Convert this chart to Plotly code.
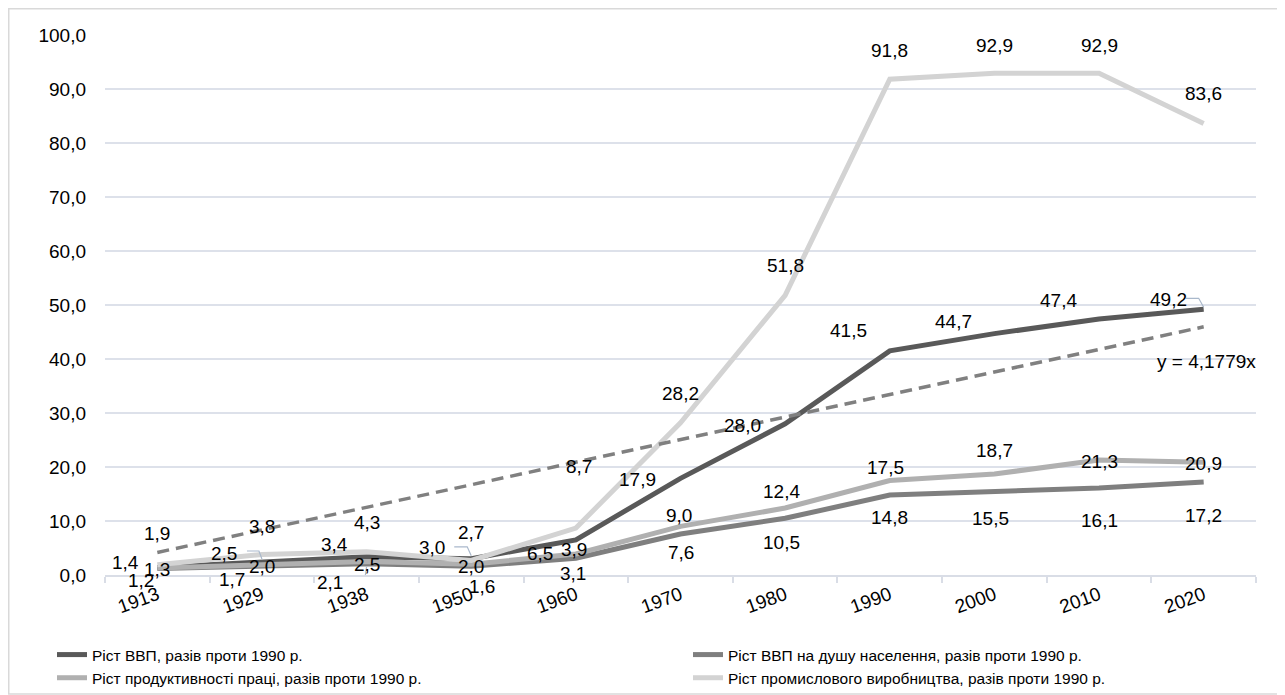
import plotly.graph_objects as go

years = ["1913", "1929", "1938", "1950", "1960", "1970", "1980", "1990", "2000", "2010", "2020"]
gdp = [1.4, 2.5, 3.4, 3.0, 6.5, 17.9, 28.0, 41.5, 44.7, 47.4, 49.2]
gdp_pc = [1.2, 1.7, 2.1, 1.6, 3.1, 7.6, 10.5, 14.8, 15.5, 16.1, 17.2]
labor = [1.3, 2.0, 2.5, 2.0, 3.9, 9.0, 12.4, 17.5, 18.7, 21.3, 20.9]
industry = [1.9, 3.8, 4.3, 2.7, 8.7, 28.2, 51.8, 91.8, 92.9, 92.9, 83.6]

names = [
    "Ріст ВВП, разів проти 1990 р.",
    "Ріст ВВП на душу населення, разів проти 1990 р.",
    "Ріст продуктивності праці, разів проти 1990 р.",
    "Ріст промислового виробництва, разів проти 1990 р.",
]

# label offsets in pixels (dx, dy) - layout only
off_gdp = [(-32, 5), (-38, 8), (-32, 12), (-39, 11), (-36, -14), (-43, -1), (-43, -2), (-41, 20), (-41, 12), (-41, 19), (-35, 10)]
off_pc = [(-16, -12), (-30, -14), (-37, -19), (11, -20), (-3, -15), (0, -19), (-4, -24), (0, -22), (-4, -27), (0, -32), (0, -33)]
off_lab = [(0, -2), (0, -2), (0, -3), (0, -2), (-2, 4), (-2, 11), (-4, 17), (-4, 13), (0, 24), (0, -2), (0, -1)]
off_ind = [(0, 31), (0, 28), (0, 29), (0, 28), (3, 62), (0, 29), (0, 30), (0, 29), (0, 28), (0, 28), (0, 30)]

series = [
    (gdp, names[0], "#595959", off_gdp, "legend"),
    (gdp_pc, names[1], "#7f7f7f", off_pc, "legend2"),
    (labor, names[2], "#b0b0b0", off_lab, "legend"),
    (industry, names[3], "#d3d3d3", off_ind, "legend2"),
]

# leader lines: (series values, point index, pixel path relative to point)
leaders = [
    (gdp, 1, [(-15, 10.5), (-3, 10.5), (0, 2.5)]),
    (gdp_pc, 2, [(-14, -17), (-2, -17), (0, -3)]),
    (gdp, 3, [(-17, 12), (-4, 12), (0, 3)]),
    (gdp, 10, [(-18, 11), (-5, 11), (0, 2)]),
]

FONT = "Liberation Sans, Arial, sans-serif"
fig = go.Figure()

for vals, nm, col, _, lg in series:
    fig.add_trace(go.Scatter(
        x=years, y=vals, mode="lines", name=nm, legend=lg,
        line=dict(color=col, width=5), hoverinfo="skip",
    ))

# linear trendline through origin for GDP (least squares)
xs = list(range(1, len(gdp) + 1))
slope = sum(x * y for x, y in zip(xs, gdp)) / sum(x * x for x in xs)
trend = [slope * x for x in xs]
fig.add_trace(go.Scatter(
    x=years, y=trend, mode="lines", showlegend=False,
    line=dict(color="#808080", width=3.5, dash="12px,7px"), hoverinfo="skip",
))

annotations = []
for vals, nm, col, offs, _ in series:
    for i, (v, (dx, dy)) in enumerate(zip(vals, offs)):
        annotations.append(dict(
            x=i, y=v, xref="x", yref="y", text=f"{v:.1f}".replace(".", ","),
            showarrow=False, xshift=dx, yshift=dy,
            font=dict(family=FONT, size=19, color="#000000"),
        ))
annotations.append(dict(
    x=len(years) - 1, y=trend[-1], xref="x", yref="y",
    text=f"y = {slope:.4f}x".replace(".", ","), showarrow=False, xshift=3, yshift=-35,
    font=dict(family=FONT, size=19, color="#000000"),
))

# page body has an 8px margin: figure is laid out in page pixels minus 8
OFF = 8
W, H = 1285 - OFF, 695 - OFF
plot_l, plot_r, plot_t, plot_b = 105 - OFF, 1256 - OFF, 35 - OFF, 575 - OFF
ml, mr, mt, mb = plot_l, W - plot_r, plot_t, H - plot_b
pw, ph = W - ml - mr, H - mt - mb

def px_x(p):
    return (p - OFF - ml) / pw

def px_y(p):
    return (H - mb - (p - OFF)) / ph

shapes = [dict(
    type="rect", xref="paper", yref="paper",
    x0=px_x(8.75), x1=px_x(1284), y0=px_y(694), y1=px_y(8.75),
    line=dict(color="#d9d9d9", width=1.5), fillcolor="rgba(0,0,0,0)", layer="below",
)]
for vals, i, pts in leaders:
    path = "M " + " L ".join(f"{dx},{dy}" for dx, dy in pts)
    shapes.append(dict(
        type="path", xref="x", yref="y", xsizemode="pixel", ysizemode="pixel",
        xanchor=i, yanchor=vals[i], path=path,
        line=dict(color="#a9b8cb", width=1.2), layer="above",
    ))

legend_style = dict(
    orientation="v", xanchor="left", yanchor="top", tracegroupgap=0,
    font=dict(family=FONT, size=15.5, color="#000000"),
    bgcolor="rgba(0,0,0,0)",
)

fig.update_layout(
    width=W, height=H,
    margin=dict(l=ml, r=mr, t=mt, b=mb, autoexpand=False),
    paper_bgcolor="white", plot_bgcolor="white",
    separators=", ",
    font=dict(family=FONT, size=19, color="#000000"),
    annotations=annotations,
    shapes=shapes,
    showlegend=True,
    legend=dict(x=px_x(52), y=px_y(638), **legend_style),
    legend2=dict(x=px_x(688), y=px_y(638), **legend_style),
    xaxis=dict(
        type="category", range=[-0.5, 10.5], tickangle=-20, automargin=False,
        showgrid=False, showline=True, linecolor="#d9dde6", linewidth=1.5,
        ticks="outside", tickson="boundaries", ticklen=6, tickcolor="#d9dde6", tickwidth=1.5,
        tickfont=dict(family=FONT, size=19, color="#000000"),
        zeroline=False,
    ),
    yaxis=dict(
        range=[0, 100], dtick=10, tickformat=".1f", automargin=False,
        showgrid=True, gridcolor="#dde1ea", gridwidth=1.5,
        zeroline=False, showline=False, ticks="",
        ticklabelstandoff=18,
        tickfont=dict(family=FONT, size=19, color="#000000"),
    ),
)

fig.write_html("out.html")
